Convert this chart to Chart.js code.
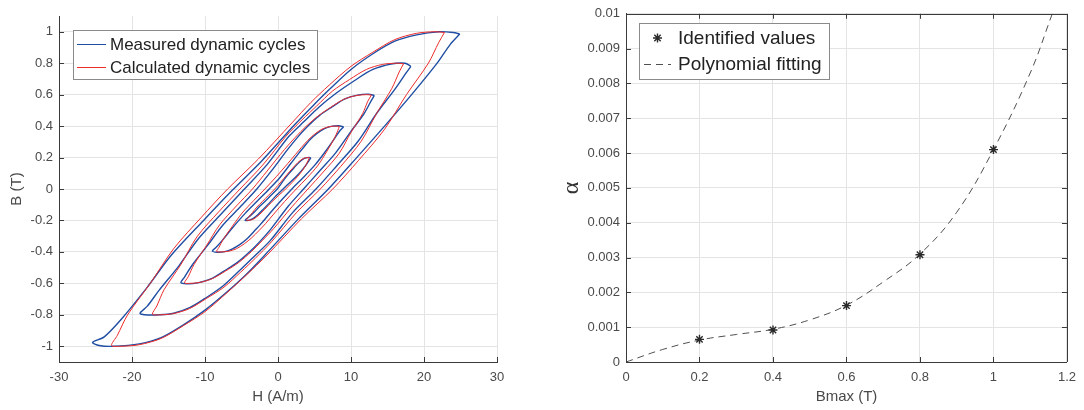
<!DOCTYPE html>
<html>
<head>
<meta charset="utf-8">
<title>Dynamic cycles and alpha identification</title>
<script src="https://cdn.jsdelivr.net/npm/chart.js@4.4.1/dist/chart.umd.min.js"></script>
<style>
  body { margin: 0; background: #fff; }
  #wrap { position: relative; width: 1084px; height: 410px; }
  #loopsChart { position: absolute; left: 0; top: 0; }
  #alphaChart { position: absolute; left: 544px; top: 0; }
</style>
</head>
<body>
<div id="wrap">
  <canvas id="loopsChart" width="540" height="410"></canvas>
  <canvas id="alphaChart" width="540" height="410"></canvas>
</div>
<script>
// ---- left panel: B(H) loops, [H (A/m), B (T)] ----
const measured1 = [[24.9,0.985],[24.0,0.995],[22.0,1.0],[19.0,0.98],[16.0,0.94],[13.0,0.86],[10.0,0.76],[7.2,0.64],[4.8,0.53],[2.3,0.41],[-2.2,0.18],[-6.3,-0.01],[-10.2,-0.2],[-14.6,-0.42],[-18.0,-0.63],[-21.5,-0.83],[-23.8,-0.94],[-25.4,-0.975],
  [-24.5,-0.995],[-22.5,-1.0],[-19.0,-0.985],[-16.0,-0.945],[-13.0,-0.865],[-10.0,-0.77],[-7.0,-0.655],[-4.4,-0.545],[-1.7,-0.415],[2.8,-0.19],[6.9,0.0],[10.6,0.19],[14.6,0.4],[18.3,0.6],[21.8,0.8],[23.6,0.92],[24.9,0.985]];
const measured2 = [[18.2,0.78],[17.4,0.8],[15.5,0.795],[13.0,0.76],[10.5,0.69],[8.0,0.61],[5.6,0.52],[3.6,0.43],[1.5,0.335],[-1.5,0.155],[-4.6,0.0],[-7.6,-0.15],[-10.8,-0.31],[-13.6,-0.49],[-16.3,-0.645],[-17.9,-0.745],[-18.9,-0.79],
  [-18.3,-0.8],[-16.2,-0.8],[-14.3,-0.79],[-12.1,-0.755],[-9.8,-0.69],[-7.5,-0.615],[-5.3,-0.52],[-3.3,-0.43],[-1.1,-0.33],[2.0,-0.15],[5.2,0.0],[8.0,0.145],[11.0,0.305],[13.5,0.48],[16.1,0.64],[17.5,0.735],[18.2,0.78]];
const measured3 = [[13.2,0.595],[12.4,0.603],[10.9,0.597],[9.1,0.572],[7.4,0.522],[5.7,0.468],[4.0,0.396],[2.7,0.33],[1.3,0.25],[-0.9,0.115],[-2.9,0.0],[-5.1,-0.11],[-7.6,-0.232],[-9.7,-0.362],[-11.7,-0.48],[-12.8,-0.56],[-13.3,-0.595],
  [-12.5,-0.603],[-11.0,-0.597],[-9.2,-0.572],[-7.4,-0.522],[-5.6,-0.468],[-3.8,-0.396],[-2.4,-0.33],[-0.9,-0.25],[1.4,-0.11],[3.5,0.0],[5.6,0.11],[7.9,0.23],[9.9,0.36],[11.8,0.48],[12.7,0.555],[13.2,0.595]];
const measured4 = [[9.0,0.395],[8.3,0.402],[7.3,0.398],[6.3,0.382],[5.3,0.352],[4.4,0.315],[3.6,0.27],[2.8,0.225],[1.8,0.165],[0.3,0.075],[-1.2,0.0],[-2.8,-0.075],[-4.5,-0.155],[-6.2,-0.245],[-7.6,-0.325],[-8.5,-0.372],[-9.0,-0.395],
  [-8.3,-0.402],[-7.3,-0.398],[-6.3,-0.382],[-5.2,-0.352],[-4.2,-0.315],[-3.3,-0.27],[-2.4,-0.225],[-1.3,-0.165],[0.3,-0.08],[1.9,0.0],[3.5,0.075],[5.1,0.155],[6.6,0.245],[7.8,0.325],[8.5,0.372],[9.0,0.395]];
const measured5 = [[4.5,0.198],[4.2,0.201],[3.6,0.194],[2.9,0.17],[2.2,0.135],[1.4,0.093],[0.65,0.048],[-0.1,0.0],[-0.95,-0.04],[-1.8,-0.08],[-2.6,-0.115],[-3.3,-0.15],[-4.0,-0.178],[-4.5,-0.198],
  [-4.2,-0.201],[-3.5,-0.19],[-2.8,-0.165],[-2.0,-0.128],[-1.1,-0.085],[-0.2,-0.04],[0.7,0.0],[1.6,0.04],[2.5,0.08],[3.2,0.115],[3.8,0.15],[4.2,0.178],[4.5,0.198]];

const calculated1 = [[22.8,0.995],[21.5,1.0],[19,0.99],[16,0.95],[13,0.87],[10,0.78],[7,0.66],[4.5,0.55],[1.9,0.42],[-2.7,0.19],[-6.9,0],[-10.5,-0.18],[-14.3,-0.38],[-17.5,-0.6],[-20.6,-0.8],[-22,-0.93],[-22.8,-0.995],
  [-21.5,-1.0],[-19,-0.99],[-16,-0.95],[-13,-0.87],[-10,-0.78],[-7,-0.66],[-4.4,-0.55],[-1.5,-0.42],[3.2,-0.19],[7.5,0],[11.0,0.18],[14.6,0.38],[17.6,0.6],[20.6,0.8],[22,0.93],[22.8,0.995]];
const calculated2 = [[17.2,0.796],[16.2,0.8],[14.3,0.792],[12.1,0.76],[9.8,0.696],[7.5,0.624],[5.3,0.528],[3.3,0.44],[1.1,0.336],[-2.1,0.152],[-5.2,0],[-8.1,-0.144],[-11.1,-0.304],[-13.3,-0.48],[-15.6,-0.64],[-16.6,-0.744],[-17.2,-0.796],
  [-16.2,-0.8],[-14.3,-0.792],[-12.1,-0.76],[-9.8,-0.696],[-7.4,-0.624],[-5.1,-0.528],[-3.1,-0.44],[-0.9,-0.336],[2.5,-0.152],[5.8,0],[8.6,0.144],[11.4,0.304],[13.5,0.48],[15.6,0.64],[16.6,0.744],[17.2,0.796]];
const calculated3 = [[12.8,0.597],[12.1,0.6],[10.7,0.594],[9.0,0.57],[7.3,0.522],[5.6,0.468],[3.8,0.396],[2.4,0.33],[0.9,0.252],[-1.5,0.114],[-3.5,0],[-5.7,-0.108],[-8.0,-0.228],[-9.8,-0.36],[-11.5,-0.48],[-12.3,-0.558],[-12.8,-0.597],
  [-12.1,-0.6],[-10.7,-0.594],[-9.0,-0.57],[-7.2,-0.522],[-5.4,-0.468],[-3.6,-0.396],[-2.2,-0.33],[-0.6,-0.252],[1.9,-0.114],[4.1,0],[6.2,0.108],[8.4,0.228],[10.0,0.36],[11.6,0.48],[12.3,0.558],[12.8,0.597]];
const calculated4 = [[8.4,0.398],[7.9,0.4],[7.0,0.396],[6.0,0.38],[5.0,0.348],[4.1,0.31],[3.2,0.264],[2.4,0.22],[1.3,0.16],[-0.2,0.08],[-1.8,0],[-3.3,-0.072],[-4.9,-0.152],[-6.3,-0.24],[-7.5,-0.32],[-8.1,-0.372],[-8.4,-0.398],
  [-7.8,-0.4],[-6.8,-0.396],[-5.7,-0.38],[-4.6,-0.348],[-3.6,-0.31],[-2.6,-0.264],[-1.7,-0.22],[-0.6,-0.16],[0.9,-0.08],[2.5,0],[4.0,0.072],[5.5,0.152],[6.7,0.24],[7.7,0.32],[8.2,0.372],[8.4,0.398]];
const calculated5 = [[4.3,0.199],[4.0,0.2],[3.4,0.192],[2.7,0.167],[2.0,0.132],[1.2,0.09],[0.4,0.045],[-0.45,0],[-1.3,-0.04],[-2.15,-0.08],[-2.9,-0.115],[-3.5,-0.15],[-4.0,-0.178],[-4.3,-0.199],
  [-4.0,-0.2],[-3.3,-0.19],[-2.6,-0.165],[-1.8,-0.128],[-0.9,-0.085],[0.1,-0.04],[1.05,0],[1.9,0.04],[2.7,0.08],[3.3,0.115],[3.8,0.15],[4.1,0.178],[4.3,0.199]];

const hTicks = [-30, -20, -10, 0, 10, 20, 30];
const bTicks = [-1, -0.8, -0.6, -0.4, -0.2, 0, 0.2, 0.4, 0.6, 0.8, 1];

// ---- right panel: alpha vs Bmax ----
const bmaxIdentified = [0.2, 0.4, 0.6, 0.8, 1.0];
const alphaIdentified = [0.00065, 0.00092, 0.00162, 0.00308, 0.0061];
const bmaxFit = [0, 0.1, 0.2, 0.3, 0.4, 0.5, 0.6, 0.7, 0.8, 0.9, 1.0, 1.1, 1.16];
const alphaFit = [0, 0.00036, 0.00063, 0.00079, 0.00094, 0.00121, 0.00163, 0.0023, 0.0031, 0.0043, 0.0061, 0.0083, 0.0100];

const bmaxTicks = [0, 0.2, 0.4, 0.6, 0.8, 1, 1.2];
const alphaTicks = [0, 0.001, 0.002, 0.003, 0.004, 0.005, 0.006, 0.007, 0.008, 0.009, 0.01];

const blue = '#1f4ea3';
const red = '#ee2b2b';
const axisColor = '#3a3a3a';
const textColor = '#333333';
const gridColor = '#e4e4e4';

Chart.defaults.font.family = "'Liberation Sans', Arial, sans-serif";
Chart.defaults.color = textColor;

function toXY(pairs) {
  return pairs.map(p => ({x: p[0], y: p[1]}));
}

function loopSet(pairs, color, width, order) {
  return {
    data: toXY(pairs),
    showLine: true,
    borderColor: color,
    borderWidth: width,
    pointRadius: 0,
    tension: 0.3,
    order: order
  };
}

// draws the asterisk marker used in the legend
function drawStar(ctx, x, y, r) {
  ctx.beginPath();
  for (let k = 0; k < 4; k++) {
    const a = k * Math.PI / 4;
    ctx.moveTo(x - r * Math.cos(a), y - r * Math.sin(a));
    ctx.lineTo(x + r * Math.cos(a), y + r * Math.sin(a));
  }
  ctx.stroke();
}

// inward tick marks, optional top/right box lines and the boxed legend inside the axes
const matlabAxes = {
  id: 'matlabAxes',
  afterDraw(chart, args, opts) {
    const ctx = chart.ctx;
    const a = chart.chartArea;
    const sx = chart.scales.x, sy = chart.scales.y;
    ctx.save();
    ctx.strokeStyle = axisColor;
    ctx.lineWidth = 1;
    ctx.beginPath();
    sx.ticks.forEach(t => {
      const px = Math.round(sx.getPixelForValue(t.value)) + 0.5;
      ctx.moveTo(px, a.bottom);
      ctx.lineTo(px, a.bottom - 5);
      if (opts.box) {
        ctx.moveTo(px, a.top);
        ctx.lineTo(px, a.top + 5);
      }
    });
    sy.ticks.forEach(t => {
      const py = Math.round(sy.getPixelForValue(t.value)) + 0.5;
      ctx.moveTo(a.left, py);
      ctx.lineTo(a.left + 5, py);
      if (opts.box) {
        ctx.moveTo(a.right, py);
        ctx.lineTo(a.right - 5, py);
      }
    });
    if (opts.box) {
      const top = Math.round(sy.getPixelForValue(sy.max)) + 0.5;
      const right = Math.round(sx.getPixelForValue(sx.max)) + 0.5;
      ctx.moveTo(a.left, top);
      ctx.lineTo(right, top);
      ctx.lineTo(right, a.bottom);
    }
    ctx.stroke();

    // legend
    const lg = opts.legend;
    ctx.fillStyle = '#ffffff';
    ctx.fillRect(lg.x, lg.y, lg.w, lg.h);
    ctx.strokeStyle = '#8a8a8a';
    ctx.strokeRect(lg.x + 0.5, lg.y + 0.5, lg.w, lg.h);
    ctx.font = lg.size + "px 'Liberation Sans', Arial, sans-serif";
    ctx.textBaseline = 'middle';
    ctx.textAlign = 'left';
    lg.rows.forEach(row => {
      ctx.strokeStyle = row.color;
      ctx.lineWidth = 1;
      if (row.kind === 'line') {
        ctx.setLineDash(row.dash || []);
        ctx.beginPath();
        ctx.moveTo(lg.sampleFrom, row.y + 0.5);
        ctx.lineTo(lg.sampleTo, row.y + 0.5);
        ctx.stroke();
        ctx.setLineDash([]);
      } else {
        ctx.lineWidth = 1.4;
        drawStar(ctx, (lg.sampleFrom + lg.sampleTo) / 2, row.y, 4.5);
      }
      ctx.fillStyle = '#222222';
      ctx.fillText(row.label, lg.textX, row.y + 1);
    });
    ctx.restore();
  }
};

function fixedTicks(values) {
  return function(scale) {
    scale.ticks = values.map(v => ({value: v}));
  };
}

function trimNum(v, digits) {
  return String(Number(v.toFixed(digits)));
}

//Left chart: dynamic cycles
const loopsCtx = document.getElementById('loopsChart');
const loops = new Chart(loopsCtx, {
  type: 'scatter',
  data: {
    datasets: [
      loopSet(calculated1, red, 1, 0),
      loopSet(calculated2, red, 1, 0),
      loopSet(calculated3, red, 1, 0),
      loopSet(calculated4, red, 1, 0),
      loopSet(calculated5, red, 1, 0),
      loopSet(measured1, blue, 1.4, 1),
      loopSet(measured2, blue, 1.4, 1),
      loopSet(measured3, blue, 1.4, 1),
      loopSet(measured4, blue, 1.4, 1),
      loopSet(measured5, blue, 1.4, 1)
    ]
  },
  options: {
    responsive: false,
    animation: false,
    devicePixelRatio: 1,
    layout: { padding: { left: 0, right: 43, top: 16, bottom: 0 } },
    plugins: {
      legend: { display: false },
      tooltip: { enabled: false },
      matlabAxes: {
        box: false,
        legend: {
          x: 73, y: 30, w: 244, h: 49, size: 17,
          sampleFrom: 77, sampleTo: 106, textX: 110,
          rows: [
            { kind: 'line', color: blue, y: 44, label: 'Measured dynamic cycles' },
            { kind: 'line', color: red, y: 67, label: 'Calculated dynamic cycles' }
          ]
        }
      }
    },
    scales: {
      x: {
        type: 'linear',
        min: -30, max: 30,
        afterBuildTicks: fixedTicks(hTicks),
        afterFit: function(scale) { scale.height = 48; },
        grid: { color: gridColor, drawTicks: false },
        border: { color: axisColor },
        ticks: { padding: 8, font: { size: 13 }, color: '#4a4a4a', callback: v => trimNum(v, 0) },
        title: { display: true, text: 'H (A/m)', font: { size: 15 }, color: '#4a4a4a', padding: { top: 0, bottom: 4 } }
      },
      y: {
        type: 'linear',
        min: -1.1, max: 1.1,
        afterBuildTicks: fixedTicks(bTicks),
        afterFit: function(scale) { scale.width = 59; },
        grid: { color: gridColor, drawTicks: false },
        border: { color: axisColor },
        ticks: { padding: 6, font: { size: 13 }, color: '#4a4a4a', callback: v => trimNum(v, 1) },
        title: { display: true, text: 'B (T)', font: { size: 15 }, color: '#4a4a4a', padding: { top: 8, bottom: 0 } }
      }
    }
  },
  plugins: [matlabAxes]
});

//Right chart: identified alpha and polynomial fit
const alphaCtx = document.getElementById('alphaChart');
const alphaChart = new Chart(alphaCtx, {
  type: 'scatter',
  data: {
    datasets: [
      {
        data: bmaxIdentified.map((b, i) => ({x: b, y: alphaIdentified[i]})),
        pointStyle: 'star',
        pointRadius: 4.5,
        borderColor: '#2a2a2a',
        borderWidth: 1.4,
        showLine: false,
        order: 0
      },
      {
        data: bmaxFit.map((b, i) => ({x: b, y: alphaFit[i]})),
        showLine: true,
        borderColor: '#505050',
        borderWidth: 1,
        borderDash: [7, 5],
        pointRadius: 0,
        tension: 0.4,
        order: 1
      }
    ]
  },
  options: {
    responsive: false,
    animation: false,
    devicePixelRatio: 1,
    layout: { padding: { left: 0, right: 13, top: 10, bottom: 0 } },
    plugins: {
      legend: { display: false },
      tooltip: { enabled: false },
      matlabAxes: {
        box: true,
        legend: {
          x: 95, y: 23, w: 190, h: 56, size: 19,
          sampleFrom: 100, sampleTo: 127, textX: 134,
          rows: [
            { kind: 'star', color: '#2a2a2a', y: 38, label: 'Identified values' },
            { kind: 'line', color: '#505050', dash: [7, 5], y: 64, label: 'Polynomial fitting' }
          ]
        }
      }
    },
    scales: {
      x: {
        type: 'linear',
        min: 0, max: 1.2,
        afterBuildTicks: fixedTicks(bmaxTicks),
        afterFit: function(scale) { scale.height = 48; },
        grid: { color: gridColor, drawTicks: false },
        border: { color: axisColor },
        ticks: { padding: 8, font: { size: 13 }, color: '#4a4a4a', callback: v => trimNum(v, 1) },
        title: { display: true, text: 'Bmax (T)', font: { size: 15 }, color: '#4a4a4a', padding: { top: 0, bottom: 4 } }
      },
      y: {
        type: 'linear',
        min: 0, max: 0.01,
        afterBuildTicks: fixedTicks(alphaTicks),
        afterFit: function(scale) { scale.width = 82; },
        grid: { color: gridColor, drawTicks: false },
        border: { color: axisColor },
        ticks: { padding: 6, font: { size: 13 }, color: '#4a4a4a', callback: v => trimNum(v, 3) },
        title: { display: true, text: 'α', font: { size: 24, family: "'Liberation Serif', 'DejaVu Serif', serif" }, color: '#333333', padding: { top: 13, bottom: 0 } }
      }
    }
  },
  plugins: [matlabAxes]
});
</script>
</body>
</html>
